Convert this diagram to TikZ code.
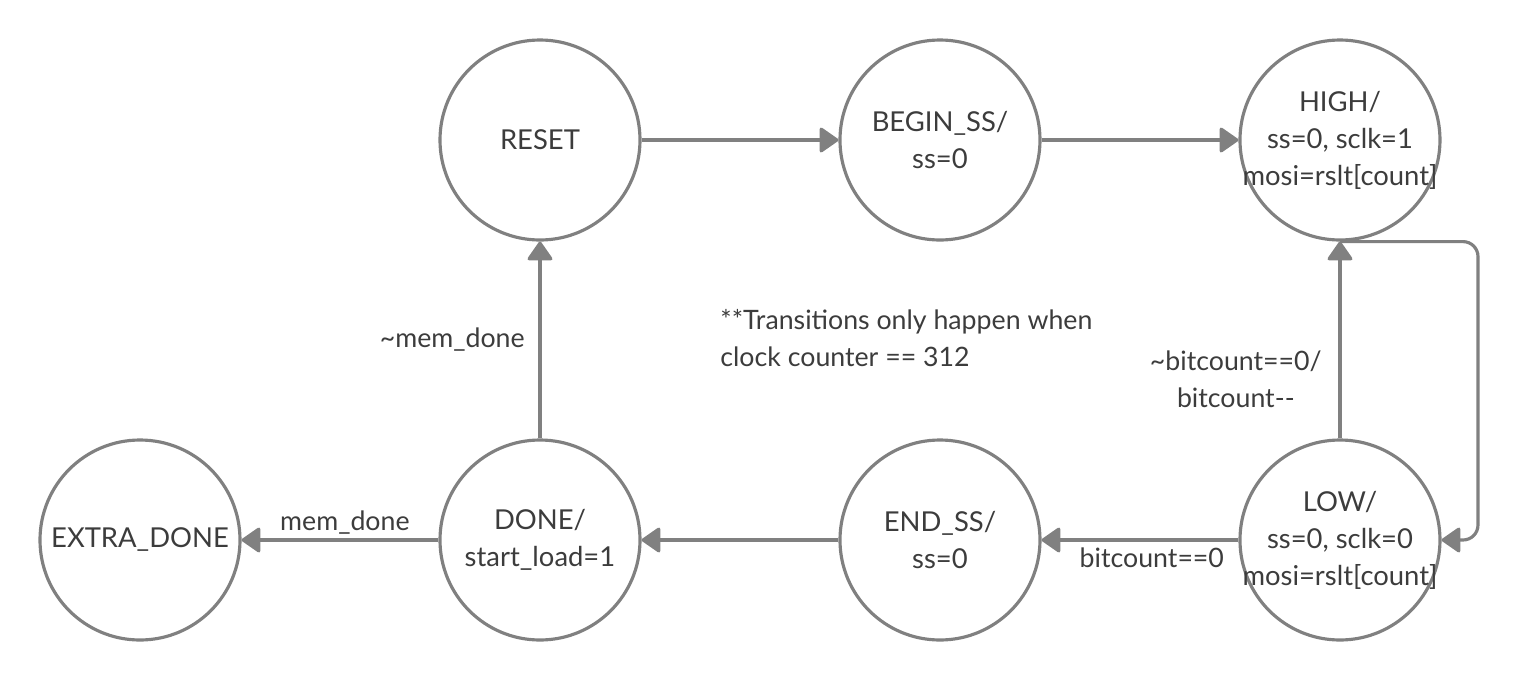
\documentclass[tikz,border=0pt]{standalone}
\usepackage{fontspec}
\setmainfont{Lato}
\usetikzlibrary{arrows.meta}
\definecolor{linegray}{HTML}{808080}
\definecolor{textgray}{HTML}{3C3C3C}

\begin{document}
\begin{tikzpicture}[
	every node/.style={font=\fontsize{7.6}{10.5}\selectfont,text=textgray},
	state/.style={shape=circle,draw=linegray,line width=0.9pt,minimum size=2cm,inner sep=-3pt,align=center,font=\fontsize{7.8}{10.5}\selectfont},
	trans/.style={draw,color=linegray,line width=0.9pt,-{Triangle[length=0.2cm,width=0.27cm,round]}}
]
	\useasboundingbox (0,0) rectangle (15.2,6.8);

	\node[state] (reset)     at (5.4, 5.4)   {RESET};
	\node[state] (beginss)   at (9.4, 5.4)   {BEGIN\_SS/\\ss=0};
	\node[state] (high)      at (13.4, 5.4)  {HIGH/\\ss=0, sclk=1\\mosi=rslt[count]};
	\node[state] (low)       at (13.4, 1.4)  {LOW/\\ss=0, sclk=0\\mosi=rslt[count]};
	\node[state] (endss)     at (9.4, 1.4)   {END\_SS/\\ss=0};
	\node[state] (done)      at (5.4, 1.4)   {DONE/\\start\_load=1};
	\node[state] (extradone) at (1.4, 1.4)   {EXTRA\_DONE};

	\node[anchor=west,align=left] (note) at (7.08, 3.42) {**Transitions only happen when\\clock counter == 312};

	\path[trans] (reset) edge (beginss);
	\path[trans] (beginss) edge (high);
	\path[trans] (low) edge node[pos=0.3,left=0.05cm,align=center]{\textasciitilde bitcount==0/\\bitcount-{}-} (high);
	\path[trans] (low) edge node[pos=0.44,below,yshift=0.05cm]{bitcount==0} (endss);
	\path[trans] (endss) edge (done);
	\path[trans] (done) edge node[pos=0.475,above,yshift=-0.08cm]{mem\_done} (extradone);
	\path[trans] (done) edge node[midway,left=0.02cm]{\textasciitilde mem\_done} (reset);

	\coordinate (loop) at (14.78, 3);
	\draw[trans,rounded corners=0.15cm] (high.south) -| (loop) |- (low.east);
\end{tikzpicture}
\end{document}
